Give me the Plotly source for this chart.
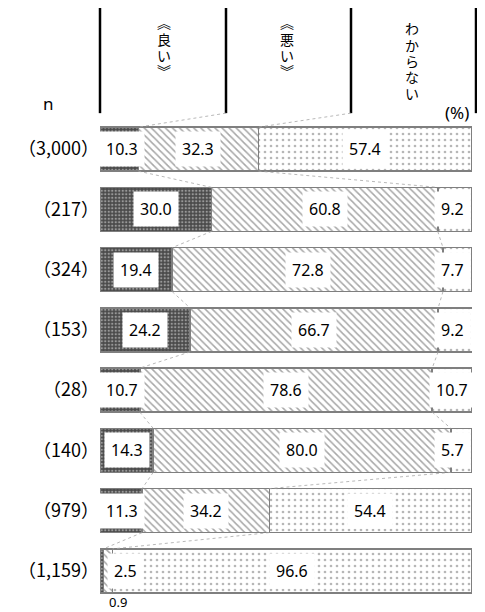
import plotly.graph_objects as go

# data
n_labels = ["（3,000）", "（217）", "（324）", "（153）", "（28）", "（140）", "（979）", "（1,159）"]
good = [10.3, 30.0, 19.4, 24.2, 10.7, 14.3, 11.3, 0.9]
bad = [32.3, 60.8, 72.8, 66.7, 78.6, 80.0, 34.2, 2.5]
unknown = [57.4, 9.2, 7.7, 9.2, 10.7, 5.7, 54.4, 96.6]
headers = ["︽良い︾", "︽悪い︾", "わからない"]

# page body has an 8px margin, so work in window pixels and shift
OFF = 8
W, H = 485 - OFF, 612 - OFF
PL, PR = 100 - OFF, 472 - OFF
ROW0, PITCH = 149 - OFF, 60.3
PT = ROW0 - PITCH / 2
PB = ROW0 + PITCH * 7.5
BW = 0.73


def xp(px):
    return (px - OFF - PL) / (PR - PL)


def yp(py):
    return (PB - (py - OFF)) / (PB - PT)


rows = list(range(len(n_labels)))
outline = dict(color="#7f7f7f", width=1.5)
fig = go.Figure()
fig.add_trace(go.Bar(y=rows, x=good, orientation="h", width=BW,
                     marker=dict(color="#505050", line=outline,
                                 pattern=dict(shape=".", fgcolor="#e8e8e8", bgcolor="#4a4a4a",
                                              size=3.5, solidity=0.35))))
fig.add_trace(go.Bar(y=rows, x=bad, orientation="h", width=BW,
                     marker=dict(color="white", line=outline,
                                 pattern=dict(shape="\\", fgcolor="#4f4f4f", bgcolor="white",
                                              size=5, solidity=0.3))))
fig.add_trace(go.Bar(y=rows, x=unknown, orientation="h", width=BW,
                     marker=dict(color="white", line=outline,
                                 pattern=dict(shape=".", fgcolor="#707070", bgcolor="white",
                                              size=6, solidity=0.16))))

annotations = []
shapes = []
lab_font = dict(family="Noto Sans", size=16, color="black")
for i in rows:
    segs = [good[i], bad[i], unknown[i]]
    start = 0
    for v in segs:
        c = start + v / 2
        if v < 2:
            annotations.append(dict(x=c, y=i, xref="x", yref="y", text=f"{v:.1f}",
                                    showarrow=False, xanchor="left", xshift=5, yshift=-31,
                                    font=dict(family="Noto Sans", size=13, color="black")))
        else:
            cpx = PL + c / 100 * (PR - PL)
            cpx = max(cpx, PL + start / 100 * (PR - PL) + 22)
            cpx = min(cpx, PR - 20)
            annotations.append(dict(x=(cpx - PL) / (PR - PL) * 100, y=i, xref="x", yref="y",
                                    text=f"{v:.1f}", showarrow=False, bgcolor="white",
                                    borderpad=6, font=lab_font))
        start += v

# connector lines between bars
for i in rows[:-1]:
    for cum, nxt in [(good[i], good[i + 1]), (good[i] + bad[i], good[i + 1] + bad[i + 1])]:
        shapes.append(dict(type="line", xref="x", yref="y", x0=cum, y0=i + BW / 2,
                           x1=nxt, y1=i + 1 - BW / 2,
                           line=dict(color="#a6a6a6", width=0.8, dash="dot")))

# header columns
col_px = [100, 226, 351, 476]
for px in col_px:
    shapes.append(dict(type="line", xref="paper", yref="paper", x0=xp(px), x1=xp(px),
                       y0=yp(5), y1=yp(113), line=dict(color="black", width=2.5)))
for k, cum in enumerate([good[0], good[0] + bad[0]]):
    shapes.append(dict(type="line", xref="paper", yref="paper", x0=xp(col_px[k + 1]), y0=yp(113),
                       x1=cum / 100, y1=yp(149 - PITCH * BW / 2),
                       line=dict(color="#a6a6a6", width=0.8, dash="dot")))
# vertical header text, one character per line
head_x = [164, 287, 412]
head_top = [23, 23, 29]
for k, txt in enumerate(headers):
    for j, ch in enumerate(txt):
        annotations.append(dict(x=xp(head_x[k]), y=yp(head_top[k] + j * 16.3),
                                xref="paper", yref="paper", xanchor="center", yanchor="middle",
                                text=ch, showarrow=False, borderpad=0,
                                font=dict(family="Liberation Sans, Noto Sans CJK JP",
                                          size=14, color="black")))

annotations.append(dict(x=xp(48), y=yp(103), xref="paper", yref="paper", text="n",
                        xanchor="center", yanchor="middle", showarrow=False,
                        font=dict(family="Noto Sans", size=17, color="black")))
annotations.append(dict(x=xp(457), y=yp(112), xref="paper", yref="paper", text="(%)",
                        xanchor="center", yanchor="middle", showarrow=False,
                        font=dict(family="Noto Sans", size=17, color="black")))

fig.update_layout(
    barmode="stack", width=W, height=H, showlegend=False,
    paper_bgcolor="white", plot_bgcolor="white",
    margin=dict(l=PL, r=W - PR, t=PT, b=H - PB, pad=0),
    xaxis=dict(range=[0, 100], visible=False, fixedrange=True),
    yaxis=dict(range=[7.5, -0.5], tickvals=rows, ticktext=n_labels, ticks="",
               showgrid=False, zeroline=False, showline=False, ticklabelstandoff=0,
               automargin=False,
               tickfont=dict(family="Noto Sans CJK JP", size=18, color="black")),
    annotations=annotations, shapes=shapes,
)
fig.write_html("out.html")
